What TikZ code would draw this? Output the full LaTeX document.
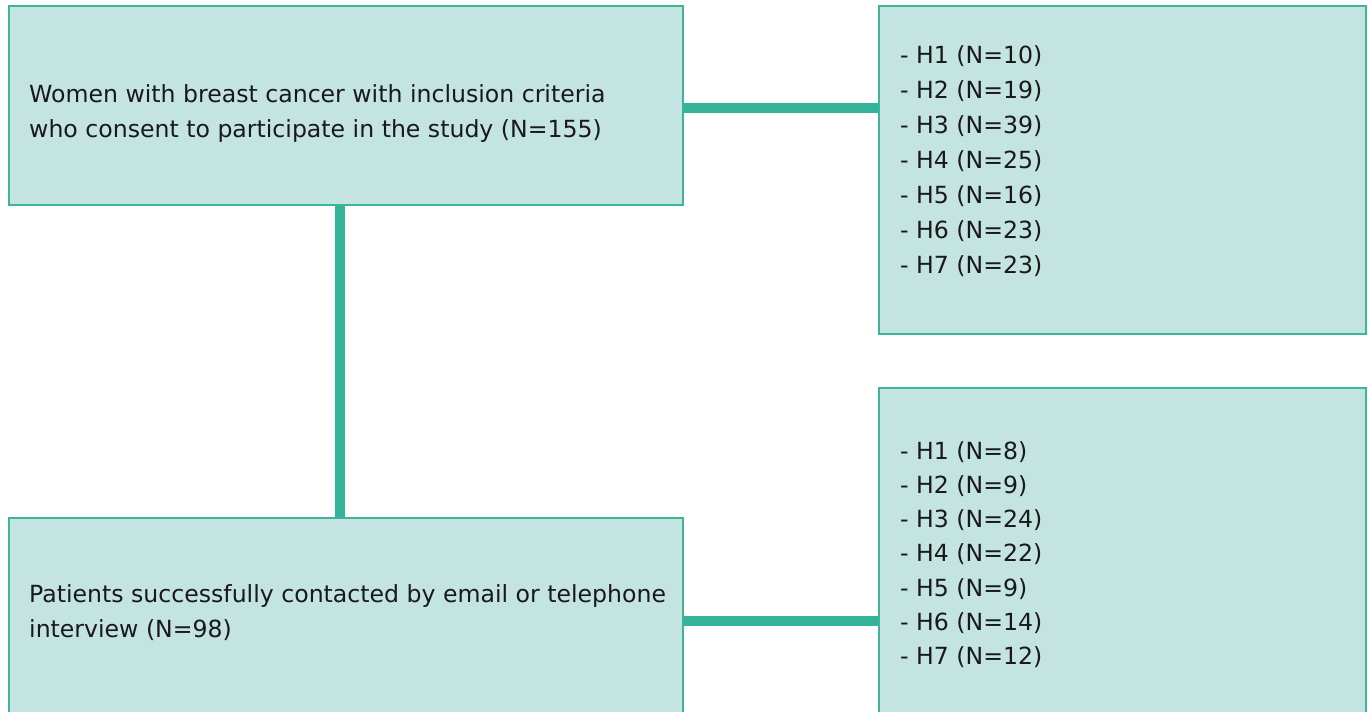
\documentclass[tikz,border=0pt]{standalone}
\usepackage{fontspec}
\setmainfont{DejaVu Sans}
\definecolor{boxfill}{HTML}{C4E4E1}
\definecolor{boxline}{HTML}{3DB59D}
\definecolor{connline}{HTML}{35B399}
\begin{document}
\begin{tikzpicture}[x=1pt,y=-1pt,
  box/.style={draw=boxline, line width=1.5pt, fill=boxfill, inner sep=0pt, anchor=north west},
  conn/.style={draw=connline, line width=10pt},
  txt/.style={anchor=base west, inner sep=0pt, font=\fontsize{23.6}{35}\selectfont, text=black!90}]
\useasboundingbox (0,0) rectangle (1368,712);
% boxes
\node[box, minimum width=673pt, minimum height=198pt] (A) at (8.5,5.5) {};
\node[box, minimum width=486pt, minimum height=327pt] (B) at (878.5,5.5) {};
\node[box, minimum width=673pt, minimum height=206pt] (C) at (8.5,517.5) {};
\node[box, minimum width=486pt, minimum height=335pt] (D) at (878.5,387.5) {};
% connectors
\draw[conn] ([yshift=-2.5pt]A.east) -- ([yshift=-2.5pt]A.east -| B.west);
\draw[conn] ([xshift=-6pt]A.south) -- ([xshift=-6pt]A.south |- C.north);
\draw[conn] (C.east) -- (C.east -| D.west);
% redraw borders on top
\draw[draw=boxline, line width=1.5pt] (A.north west) rectangle (A.south east);
\draw[draw=boxline, line width=1.5pt] (B.north west) rectangle (B.south east);
\draw[draw=boxline, line width=1.5pt] (C.north west) rectangle (C.south east);
\draw[draw=boxline, line width=1.5pt] (D.north west) rectangle (D.south east);
% texts
\node[txt] (a1) at (29,102) {Women with breast cancer with inclusion criteria};
\node[txt] (a2) at (29,137) {who consent to participate in the study (N=155)};
\node[txt] (c1) at (29,602) {Patients successfully contacted by email or telephone};
\node[txt] (c2) at (29,637) {interview (N=98)};
\foreach \t [count=\i] in {10,19,39,25,16,23,23}
  \node[txt] (b\i) at (900,{63+35*(\i-1)}) {- H\i{} (N=\t)};
\foreach \t [count=\i] in {8,9,24,22,9,14,12}
  \node[txt] (d\i) at (900,{459+34.33*(\i-1)}) {- H\i{} (N=\t)};
\end{tikzpicture}
\end{document}
